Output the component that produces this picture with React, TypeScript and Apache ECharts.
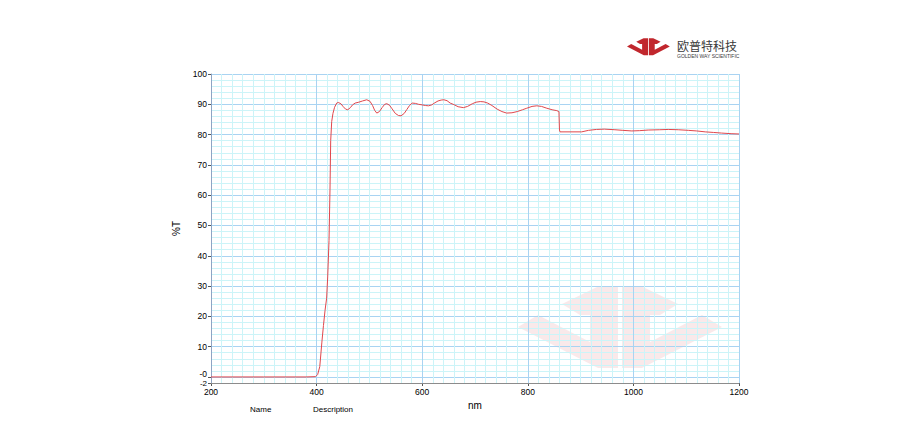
import React, { useEffect, useRef } from 'react';
import * as echarts from 'echarts';

// Spectrum: wavelength (nm) and transmittance (%T)
const wavelength = [
  200, 300, 380, 398, 402, 406, 410, 413, 416, 419, 421, 423.5, 425.4, 426.7, 428.6, 431, 434, 438, 441, 446,
  450, 455, 459, 464, 468, 473, 480, 487, 495, 501, 506, 510, 514, 519, 524, 529, 533, 538, 543, 549,
  555, 560, 566, 571, 576, 581, 587, 593, 600, 606, 612, 618, 624, 630, 636, 641, 647, 653, 660, 668,
  678, 686, 695, 702, 710, 717, 724, 732, 742, 751, 760, 770, 780, 790, 798, 808, 817, 826, 836, 846,
  855, 859, 860, 861, 880, 902, 915, 930, 945, 965, 980, 997, 1012, 1028, 1050, 1066, 1085, 1104, 1120, 1136,
  1152, 1167, 1185, 1200,
];
const transmittance = [
  0, 0, 0, 0.1, 0.8, 3.4, 11.5, 17, 22, 26, 33, 45, 62, 78, 84.3, 87, 89, 90.4, 90.6, 90.2,
  89.3, 88.4, 88.2, 88.9, 89.8, 90.4, 90.7, 91.1, 91.5, 91.0, 89.6, 88, 87.1, 87.6, 88.9, 90, 90.2, 89.7, 88.5, 87,
  86.3, 86.2, 87, 88.3, 89.6, 90.4, 90.3, 90, 89.8, 89.6, 89.5, 89.8, 90.5, 91.1, 91.4, 91.5, 91.2, 90.4, 89.9, 89.2,
  88.9, 89.3, 90.2, 90.7, 90.9, 90.8, 90.4, 89.6, 88.4, 87.6, 87.1, 87.2, 87.6, 88.2, 88.7, 89.3, 89.5, 89.3, 88.7, 88.2,
  87.9, 87.6, 81.5, 80.9, 80.9, 80.9, 81.4, 81.7, 81.8, 81.6, 81.4, 81.2, 81.3, 81.5, 81.6, 81.7, 81.6, 81.4, 81.2, 80.9,
  80.7, 80.5, 80.3, 80.2,
];

const xTickValues = [200, 400, 600, 800, 1000, 1200];
const yTickValues = [-2, 0, 10, 20, 30, 40, 50, 60, 70, 80, 90, 100];
const yTickLabels = ['-2', '-0', '10', '20', '30', '40', '50', '60', '70', '80', '90', '100'];

const xAxisName = 'nm';
const yAxisName = '%T';
const footerLabels = ['Name', 'Description'];
const brandName = '欧普特科技';
const brandSub = 'GOLDEN WAY SCIENTIFIC';

// logo outline (left half; right half mirrored)
const logoLeftTop = [[44, 18], [79, 1], [100, 1], [100, 29], [62, 29]];
const logoLeftBottom = [[0, 41], [20, 29], [72, 56], [72, 29], [100, 29], [100, 82], [80, 82]];
const mirror = (pts: number[][]) => pts.map(([x, y]) => [204 - x, y]);

const MAJOR = '#a9d3f2';
const MINOR = '#ccf4f8';
const FONT = 'Liberation Sans, Arial, sans-serif';

function logoGroup(x: number, y: number, s: number, color: string, z: number) {
  const polys = [logoLeftTop, logoLeftBottom, mirror(logoLeftTop), mirror(logoLeftBottom)];
  return {
    type: 'group',
    x,
    y,
    scaleX: s,
    scaleY: s,
    silent: true,
    z,
    children: polys.map((p) => ({
      type: 'polygon',
      z,
      shape: { points: p },
      style: { fill: color },
    })),
  };
}

export default function App() {
  const ref = useRef<HTMLDivElement>(null);
  useEffect(() => {
    if (!ref.current) return;
    const chart = echarts.init(ref.current, undefined, { renderer: 'svg' });
    const xMinorColors = [MAJOR, MINOR, MINOR, MINOR, MINOR, MINOR, MINOR, MINOR, MINOR, MINOR];
    const yMinorColors = [MINOR, MAJOR, MINOR, MINOR, MINOR];
    chart.setOption({
      animation: false,
      backgroundColor: '#ffffff',
      grid: { left: 211, right: 185, top: 74, bottom: 57, containLabel: false },
      xAxis: [
        {
          type: 'value',
          min: 200,
          max: 1200,
          interval: 20,
          position: 'bottom',
          z: 2,
          axisLine: { show: true, onZero: false, lineStyle: { color: '#8c8c8c', width: 1 } },
          axisTick: { show: false },
          axisLabel: { show: false },
          splitLine: { show: true, lineStyle: { color: xMinorColors, width: 1 } },
        },
        {
          type: 'value',
          min: 200,
          max: 1200,
          interval: 200,
          position: 'bottom',
          name: xAxisName,
          nameLocation: 'middle',
          nameGap: 12,
          nameTextStyle: { color: '#000', fontFamily: FONT, fontSize: 10 },
          axisLine: { show: false, onZero: false },
          axisTick: { show: true, length: 3, lineStyle: { color: '#555' } },
          axisLabel: {
            show: true,
            margin: 4,
            color: '#000',
            fontFamily: FONT,
            fontSize: 8.5,
            showMinLabel: true,
            showMaxLabel: true,
            hideOverlap: false,
            formatter: (v: number) => String(v),
          },
          splitLine: { show: false },
        },
      ],
      yAxis: [
        {
          type: 'value',
          min: -2,
          max: 100,
          interval: 2,
          position: 'left',
          z: 2,
          axisLine: { show: true, onZero: false, lineStyle: { color: '#8ea4c4', width: 1 } },
          axisTick: { show: false },
          axisLabel: { show: false },
          splitLine: { show: true, lineStyle: { color: yMinorColors, width: 1 } },
        },
        {
          type: 'value',
          min: -2,
          max: 100,
          position: 'left',
          name: yAxisName,
          nameLocation: 'middle',
          nameGap: 25,
          nameTextStyle: { color: '#000', fontFamily: FONT, fontSize: 10 },
          axisLine: { show: false, onZero: false },
          axisTick: { show: true, length: 3, customValues: yTickValues, lineStyle: { color: '#555' } },
          axisLabel: {
            show: true,
            margin: 4,
            color: '#000',
            fontFamily: FONT,
            fontSize: 8.5,
            customValues: yTickValues,
            showMinLabel: true,
            showMaxLabel: true,
            hideOverlap: false,
            formatter: (v: number) => {
              const i = yTickValues.indexOf(v);
              if (i < 0) return '';
              if (v === -2) return '{lo|' + yTickLabels[i] + '}';
              if (v === 0) return '{hi|' + yTickLabels[i] + '}';
              return yTickLabels[i];
            },
            rich: {
              lo: { fontFamily: FONT, fontSize: 8, color: '#000', padding: [1, 0, 0, 0] },
              hi: { fontFamily: FONT, fontSize: 8.5, color: '#000', padding: [0, 0, 5, 0] },
            },
          },
          splitLine: { show: false },
        },
      ],
      graphic: [
        logoGroup(518, 286, 1, 'rgba(200, 40, 45, 0.1)', 0),
        logoGroup(627, 38, 0.21, '#c1272d', 5),
        {
          type: 'text',
          x: 677,
          y: 39,
          style: { text: brandName, font: '12px "Noto Sans CJK SC", sans-serif', fill: '#3a3a3a' },
        },
        {
          type: 'text',
          x: 677,
          y: 53,
          style: { text: brandSub, font: '5px ' + FONT, fill: '#3a3a3a' },
        },
        {
          type: 'text',
          x: 250,
          y: 405,
          style: { text: footerLabels[0], font: '8px ' + FONT, fill: '#000' },
        },
        {
          type: 'text',
          x: 313,
          y: 405,
          style: { text: footerLabels[1], font: '8px ' + FONT, fill: '#000' },
        },
      ],
      series: [
        {
          type: 'line',
          xAxisIndex: 0,
          yAxisIndex: 0,
          showSymbol: false,
          symbol: 'none',
          data: wavelength.map((w, i) => [w, transmittance[i]]),
          lineStyle: { color: '#e0474c', width: 1 },
          z: 5,
        },
      ],
    });
    return () => chart.dispose();
  }, []);
  return <div ref={ref} style={{ position: 'fixed', left: 0, top: 0, width: 924, height: 440 }} />;
}
